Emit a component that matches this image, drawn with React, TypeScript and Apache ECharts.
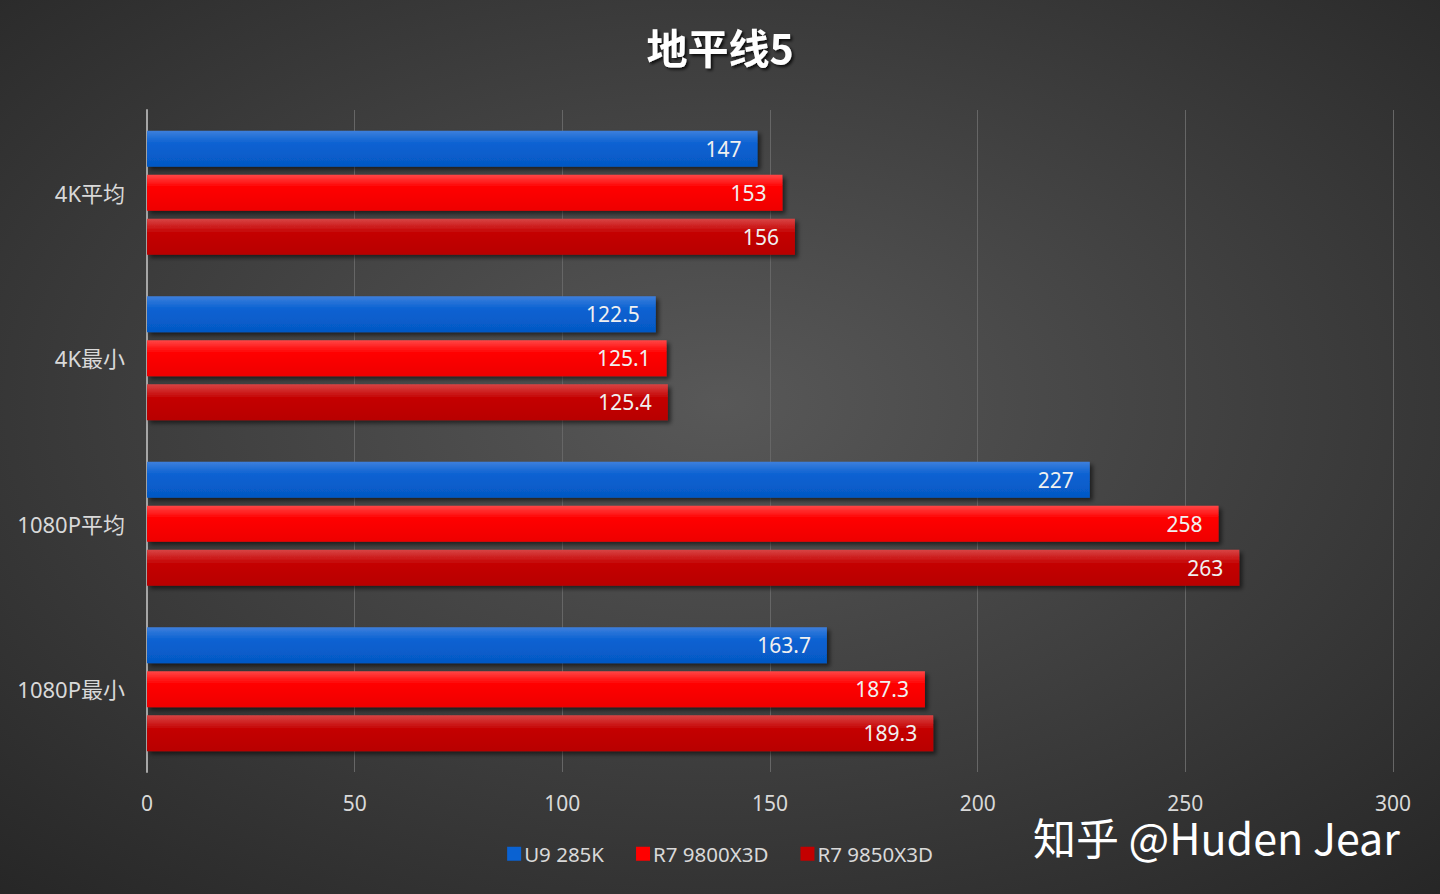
import React, { useEffect, useRef } from 'react';
import * as echarts from 'echarts';

// Chart data
const categories = ['4K平均', '4K最小', '1080P平均', '1080P最小'];
const seriesNames = ['U9 285K', 'R7 9800X3D', 'R7 9850X3D'];
const u9Values = [147, 122.5, 227, 163.7];
const r9800Values = [153, 125.1, 258, 187.3];
const r9850Values = [156, 125.4, 263, 189.3];
const xTicks = { min: 0, max: 300, interval: 50 };

const FONT = '"Noto Sans", "Noto Sans CJK SC", sans-serif';

const vGrad = (stops: [number, string][]) =>
  new echarts.graphic.LinearGradient(0, 0, 0, 1, stops.map(([offset, color]) => ({ offset, color })));

const barColors = [
  vGrad([[0, '#3d7fdc'], [0.35, '#0a62d2'], [1, '#0558c4']]),
  vGrad([[0, '#ff4646'], [0.35, '#ff0000'], [1, '#ee0000']]),
  vGrad([[0, '#d84444'], [0.4, '#c40000'], [1, '#b80000']]),
];
const legendColors = ['#0a62d2', '#ff0000', '#c40000'];

const App: React.FC = () => {
  const chartRef = useRef<HTMLDivElement>(null);

  useEffect(() => {
    document.body.style.margin = '0';
    if (!chartRef.current) return;
    const chart = echarts.init(chartRef.current, undefined, { renderer: 'svg' });

    const valueSets = [u9Values, r9800Values, r9850Values];

    const option: echarts.EChartsOption = {
      animation: false,
      backgroundColor: {
        type: 'radial',
        x: 0.5,
        y: 0.45,
        r: 0.75,
        colorStops: [
          { offset: 0, color: '#585858' },
          { offset: 1, color: '#262626' },
        ],
      } as any,
      title: {
        text: '地平线5',
        left: 'center',
        top: 20,
        textStyle: {
          color: '#ffffff',
          fontSize: 41,
          fontWeight: 'bold',
          fontFamily: '"Noto Sans CJK SC", sans-serif',
          textShadowColor: 'rgba(0,0,0,0.8)',
          textShadowOffsetX: 2,
          textShadowOffsetY: 2,
          textShadowBlur: 3,
        },
      },
      legend: {
        data: seriesNames.map((name, i) => ({ name, itemStyle: { color: legendColors[i] } })),
        bottom: 25,
        left: 'center',
        icon: 'rect',
        itemWidth: 14,
        itemHeight: 14,
        itemGap: 32,
        textStyle: { color: '#d9d9d9', fontSize: 20.5, fontFamily: FONT, padding: [0, 0, 0, -2] },
      },
      grid: {
        left: 147,
        right: 47,
        top: 110,
        bottom: 122,
        containLabel: false,
      },
      xAxis: {
        type: 'value',
        min: xTicks.min,
        max: xTicks.max,
        interval: xTicks.interval,
        axisLine: { show: false },
        axisTick: { show: false },
        axisLabel: { color: '#d9d9d9', fontSize: 21, lineHeight: 18, fontFamily: FONT, margin: 22 },
        splitLine: { show: true, lineStyle: { color: '#666666', width: 1 } },
      },
      yAxis: {
        type: 'category',
        data: categories,
        inverse: true,
        axisLine: { show: true, lineStyle: { color: '#a6a6a6', width: 2 } },
        axisTick: { show: false },
        axisLabel: { color: '#d9d9d9', fontSize: 22, fontFamily: FONT, margin: 22 },
      },
      series: seriesNames.map((name, i) => ({
        name,
        type: 'bar',
        data: valueSets[i],
        barWidth: 36,
        barGap: '22%',
        itemStyle: {
          color: barColors[i],
          shadowColor: 'rgba(0,0,0,0.55)',
          shadowBlur: 4,
          shadowOffsetX: 3,
          shadowOffsetY: 3,
        },
        label: {
          show: true,
          position: 'insideRight',
          distance: 16,
          color: '#f0f0f0',
          fontSize: 21,
          fontFamily: FONT,
        },
      })),
      graphic: [
        {
          type: 'text',
          right: 40,
          top: 814,
          style: {
            text: '知乎 @Huden Jear',
            fill: '#ffffff',
            fontSize: 43,
            lineHeight: 38,
            fontFamily: '"Noto Sans CJK SC", sans-serif',
            shadowColor: 'rgba(0,0,0,0.8)',
            shadowBlur: 3,
            shadowOffsetX: 2,
            shadowOffsetY: 2,
          } as any,
        },
      ],
    };

    chart.setOption(option);
    return () => chart.dispose();
  }, []);

  return <div ref={chartRef} style={{ width: 1440, height: 894 }} />;
};

export default App;
